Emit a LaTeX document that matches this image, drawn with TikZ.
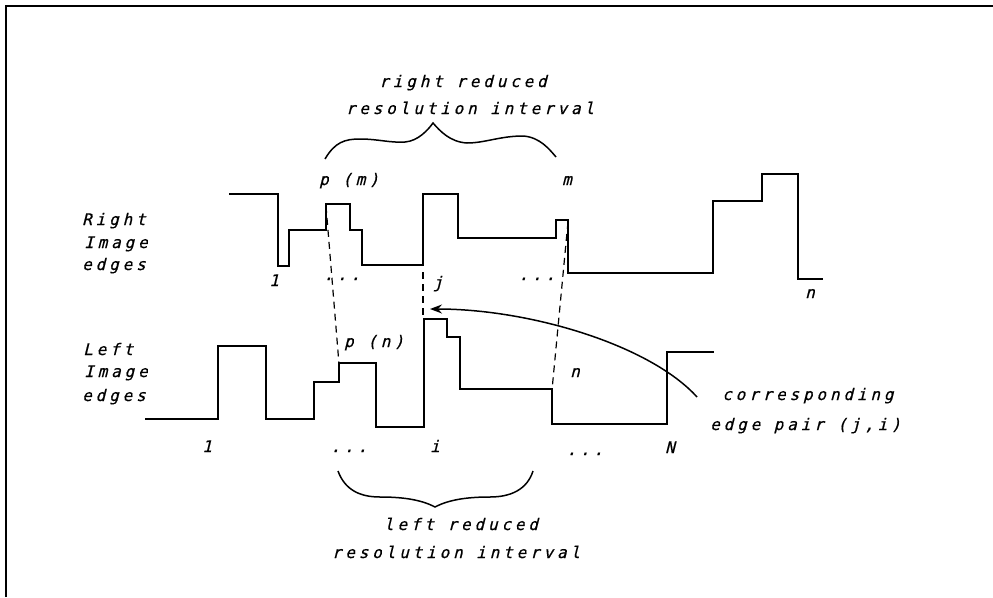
\documentclass[tikz,border=0pt]{standalone}
\usepackage{fontspec}
\usetikzlibrary{arrows.meta}
\newfontfamily\plotfont[LetterSpace=24,FakeSlant=0.25,FakeBold=0.6]{DejaVu Sans Mono}
\tikzset{
  sig/.style={line width=1.6pt, line join=miter},
  frame/.style={line width=2.2pt},
  dashline/.style={line width=1.2pt, dash pattern=on 7pt off 5pt},
  txt/.style={font=\plotfont\fontsize{16}{18}\selectfont, inner sep=0pt, anchor=base},
  ltxt/.style={txt, anchor=base west},
  brc/.style={line width=1.5pt},
}
\begin{document}
\begin{tikzpicture}[x=1pt,y=-1pt]
\useasboundingbox (0,0) rectangle (993,597);
% frame
\draw[frame] (6,597) -- (6,6) -- (993,6);

% right image edges (upper signal)
\draw[sig] (229,194) -- (278,194) -- (278,266) -- (289,266) -- (289,230) -- (326,230)
  -- (326,204) -- (350,204) -- (350,230) -- (362,230) -- (362,265) -- (423,265)
  -- (423,194) -- (458,194) -- (458,238) -- (556,238) -- (556,220) -- (568,220)
  -- (568,273) -- (713,273) -- (713,201) -- (762,201) -- (762,174) -- (798,174)
  -- (798,279) -- (823,279);

% left image edges (lower signal)
\draw[sig] (145,419) -- (218,419) -- (218,346) -- (266,346) -- (266,419) -- (314,419)
  -- (314,382) -- (339,382) -- (339,363) -- (376,363) -- (376,427) -- (424,427)
  -- (424,319) -- (447,319) -- (447,337) -- (460,337) -- (460,389) -- (552,389)
  -- (552,424) -- (667,424) -- (667,352) -- (714,352);

% correspondence points
\coordinate (pm) at (326,206);
\coordinate (pn) at (339,364);
\coordinate (jt) at (423,272);
\coordinate (ib) at (423,318);
\coordinate (mt) at (568,222);
\coordinate (nb) at (552,390);
\draw[dashline] (pm) -- (pn);
\draw[dashline] (jt) -- (ib);
\draw[dashline] (mt) -- (nb);

% arrow
\coordinate (cs) at (697,397);
\coordinate (ct) at (430,309);
\draw[line width=1.5pt, -{Stealth[length=12pt,width=9pt,inset=4pt]}]
  (cs) .. controls (650,345) and (530,309) .. (ct);

% braces
\draw[brc] (325,159) .. controls (335,142) and (345,139) .. (360,139)
  .. controls (378,139) and (390,143) .. (405,142)
  .. controls (418,141) and (428,130) .. (433,123)
  .. controls (440,131) and (450,142) .. (467,143)
  .. controls (485,143) and (500,136) .. (523,136)
  .. controls (540,137) and (550,150) .. (556,157);
\draw[brc] (338,471) .. controls (345,490) and (360,497) .. (380,497)
  .. controls (400,497) and (420,499) .. (435,507)
  .. controls (450,499) and (470,497) .. (490,497)
  .. controls (510,497) and (527,490) .. (533,471);

% texts
\node[txt] (rr1) at (463,87) {right reduced};
\node[txt] (rr2) at (470,114) {resolution interval};
\node[txt] (lr1) at (461,530) {left reduced};
\node[txt] (lr2) at (456,558) {resolution interval};
\node[ltxt] (ri1) at (82,225) {Right};
\node[ltxt] (ri2) at (84,248) {Image};
\node[ltxt] (ri3) at (82,270) {edges};
\node[ltxt] (li1) at (83,355) {Left};
\node[ltxt] (li2) at (84,377) {Image};
\node[ltxt] (li3) at (82,401) {edges};
\node[ltxt] (cp1) at (722,400) {corresponding};
\node[ltxt] (cp2) at (710,430) {edge pair (j,i)};

% labels upper
\node[txt] (u1) at (274,286) {1};
\node[txt] (ud1) at (342,280) {...};
\node[txt] (uj) at (438,288) {j};
\node[txt] (ud2) at (537,280) {...};
\node[txt] (un) at (810,298) {n};
\node[txt] (upm) at (349,185) {p (m)};
\node[txt] (um) at (567,185) {m};

% labels lower
\node[txt] (l1) at (207,452) {1};
\node[txt] (ld1) at (349,452) {...};
\node[txt] (li) at (435,452) {i};
\node[txt] (ld2) at (585,455) {...};
\node[txt] (lN) at (670,453) {N};
\node[txt] (lpn) at (374,347) {p (n)};
\node[txt] (ln) at (575,377) {n};
\end{tikzpicture}
\end{document}
